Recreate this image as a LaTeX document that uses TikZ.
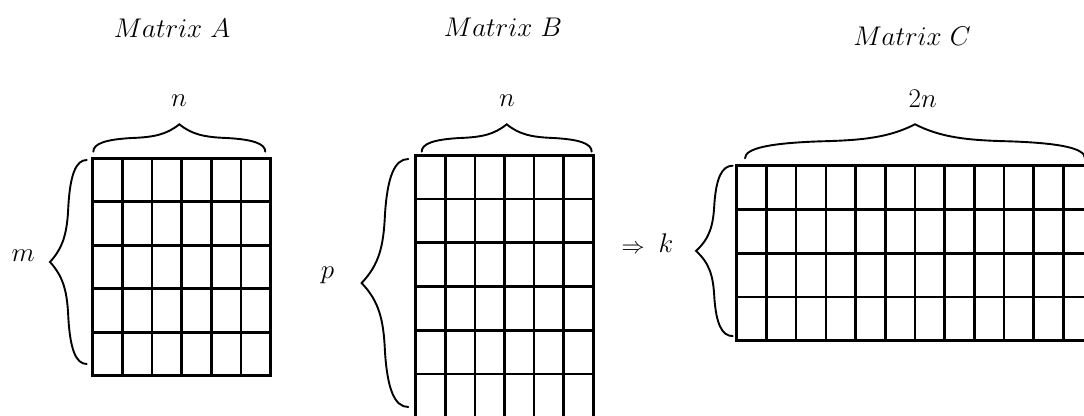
\RequirePackage{fix-cm}
\documentclass[tikz,border=0pt]{standalone}
\tikzset{
  x=1pt, y=-1pt,
  gridline/.style={line width=2.6pt, line cap=rect},
  braceline/.style={line width=1.9pt, line cap=round},
  lbl/.style={anchor=base, inner sep=0pt, font=\fontsize{27}{32}\selectfont},
}
% curly brace of length 2 and height 1 in the current frame, tip at (1,1)
\newcommand\wbrace{%
  \draw[braceline] (0,0) .. controls (0,.3) and (.15,.45) .. (.45,.5)
      .. controls (.7,.53) and (.85,.62) .. (1,1)
      .. controls (1.15,.62) and (1.3,.53) .. (1.55,.5)
      .. controls (1.85,.45) and (2,.3) .. (2,0);}
% #1,#2 top-left corner, #3 columns, #4 rows, #5 cell width, #6 row height
\newcommand\cellgrid[6]{%
  \foreach \i in {0,...,#3}
    \draw[gridline] ({#1+\i*#5},#2) -- ({#1+\i*#5},{#2+#4*#6});
  \foreach \j in {0,...,#4}
    \draw[gridline] (#1,{#2+\j*#6}) -- ({#1+#3*#5},{#2+\j*#6});
}
% horizontal brace above a grid: left end, baseline, half length, height
\newcommand\topbrace[4]{%
  \begin{scope}[shift={(#1,#2)}, xscale=#3, yscale=-#4]\wbrace\end{scope}}
% vertical brace left of a grid: x, top end, half length, depth
\newcommand\sidebrace[4]{%
  \begin{scope}[cm={0,-#3,#4,0,(#1,#2)}]\wbrace\end{scope}}
\begin{document}
\begin{tikzpicture}
\fill[white] (0,0) rectangle (1084,415);
\useasboundingbox (0,0) rectangle (1084,415);

% Matrix A: 5 x 6
\cellgrid{92.7}{158.3}{6}{5}{29.67}{43.48}
\topbrace{93.3}{151.7}{86}{27.4}
\sidebrace{86.7}{160}{102}{36.7}
\node[lbl] (titleA) at (172,37.3) {$Matrix\ A$};
\node[lbl] (nA) at (179,106.7) {$n$};
\node[lbl] (m) at (23.3,261.7) {$m$};

% Matrix B: 6 x 6
\cellgrid{415.7}{155.3}{6}{6}{29.6}{43.74}
\topbrace{421.7}{151.7}{85}{27.4}
\sidebrace{408.3}{159}{124}{46.7}
\node[lbl] (titleB) at (503,36.7) {$Matrix\ B$};
\node[lbl] (nB) at (507,106.7) {$n$};
\node[lbl] (p) at (327.5,278.3) {$p$};

% result
\node[lbl, anchor=center, font=\fontsize{23}{28}\selectfont] (impl) at (633,249) {$\Rightarrow$};
\node[lbl] (k) at (666,252.7) {$k$};

% Matrix C: 4 x 12
\cellgrid{736.7}{165.7}{12}{4}{29.7}{43.75}
\topbrace{745}{158.3}{170}{34}
\sidebrace{732.7}{165.7}{85.2}{36.7}
\node[lbl] (titleC) at (912,45) {$Matrix\ C$};
\node[lbl] (nC) at (922.7,107) {$2n$};
\end{tikzpicture}
\end{document}
